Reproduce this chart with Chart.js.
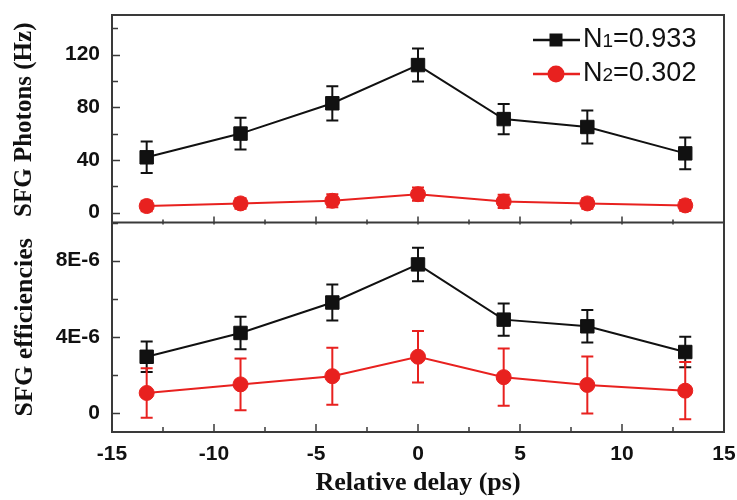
<!DOCTYPE html>
<html lang="en">
<head>
<meta charset="UTF-8">
<title>SFG vs relative delay</title>
<script src="https://cdn.jsdelivr.net/npm/chart.js"></script>
<style>
    body {
        margin: 0;
        background: #fff;
    }
    .wrap {
        position: relative;
        width: 737px;
        height: 500px;
    }
    #topChart { position: absolute; left: 0; top: 0; }
    #bottomChart { position: absolute; left: 0; top: 212px; }
</style>
</head>
<body>
<div class="wrap">
    <canvas id="topChart" width="737" height="235"></canvas>
    <canvas id="bottomChart" width="737" height="288"></canvas>
</div>
<script>
    // relative delay (ps)
    const delay = [-13.3, -8.7, -4.2, 0, 4.2, 8.3, 13.1];

    // SFG photon counts (Hz)
    const photonsN1 = [42, 60, 83, 112, 71, 65, 45];
    const photonsN1Err = [12, 12, 13, 12.5, 11.5, 12.5, 12];
    const photonsN2 = [5, 7, 9, 14, 8.5, 7, 5.5];
    const photonsN2Err = [4, 4, 5, 5, 5, 4, 4];

    // SFG efficiencies
    const effN1 = [2.95e-6, 4.2e-6, 5.8e-6, 7.8e-6, 4.9e-6, 4.55e-6, 3.2e-6];
    const effN1Err = [0.8e-6, 0.85e-6, 0.95e-6, 0.88e-6, 0.85e-6, 0.85e-6, 0.8e-6];
    const effN2 = [1.05e-6, 1.5e-6, 1.93e-6, 2.95e-6, 1.88e-6, 1.47e-6, 1.17e-6];
    const effN2Err = [1.3e-6, 1.36e-6, 1.5e-6, 1.35e-6, 1.5e-6, 1.5e-6, 1.5e-6];

    // axis ticks
    const delayTicks = [-15, -10, -5, 0, 5, 10, 15];
    const photonTicks = [0, 40, 80, 120];
    const effTicks = [0, 4e-6, 8e-6];
    const effTickLabels = ['0', '4E-6', '8E-6'];

    // legend: [main, subscript, rest]
    const legendLabels = [['N', '1', '=0.933'], ['N', '2', '=0.302']];

    const BLACK = '#111111';
    const RED = '#e8211f';
    const FRAME = '#3a3a3a';
    const SERIF = '"Liberation Serif", "Times New Roman", serif';
    const tickFont = { family: '"Liberation Sans", Arial, sans-serif', size: 21, weight: 'bold' };
    const noPadding = () => ({ left: 0, top: 0, right: 0, bottom: 0 });

    function points(ys) {
        return delay.map((x, i) => ({ x: x, y: ys[i] }));
    }

    // vertical error bars with caps, drawn under the markers
    const errorBars = {
        id: 'errorBars',
        beforeDatasetsDraw(chart) {
            const ctx = chart.ctx;
            const xs = chart.scales.x, ys = chart.scales.y;
            ctx.save();
            chart.data.datasets.forEach(ds => {
                ctx.strokeStyle = ds.borderColor;
                ctx.lineWidth = 2;
                ds.data.forEach((p, i) => {
                    const px = xs.getPixelForValue(p.x);
                    const hi = ys.getPixelForValue(p.y + ds.errors[i]);
                    const lo = ys.getPixelForValue(p.y - ds.errors[i]);
                    ctx.beginPath();
                    ctx.moveTo(px, hi); ctx.lineTo(px, lo);
                    ctx.moveTo(px - 6, hi); ctx.lineTo(px + 6, hi);
                    ctx.moveTo(px - 6, lo); ctx.lineTo(px + 6, lo);
                    ctx.stroke();
                });
            });
            ctx.restore();
        }
    };

    // box frame and inward tick marks; the upper panel leaves its bottom edge
    // to the lower panel so the shared line is drawn once
    const frame = {
        id: 'frame',
        afterDatasetsDraw(chart, args, opts) {
            const ctx = chart.ctx;
            const a = chart.chartArea;
            const xs = chart.scales.x, ys = chart.scales.y;
            ctx.save();
            ctx.strokeStyle = FRAME;
            ctx.lineWidth = 2;
            ctx.beginPath();
            ctx.moveTo(a.left, a.bottom + 1);
            ctx.lineTo(a.left, a.top);
            ctx.lineTo(a.right, a.top);
            ctx.lineTo(a.right, a.bottom + 1);
            if (!opts.openBottom) {
                ctx.moveTo(a.left, a.bottom);
                ctx.lineTo(a.right, a.bottom);
            }
            ctx.stroke();
            ctx.lineWidth = 1.5;
            ctx.beginPath();
            for (let v = -15; v <= 15; v += 2.5) {
                const px = Math.round(xs.getPixelForValue(v));
                const len = (v % 5 === 0) ? 8 : 5;
                ctx.moveTo(px, a.bottom); ctx.lineTo(px, a.bottom - len);
            }
            const yt = ys.ticks.map(t => t.value);
            const step = yt[1] - yt[0];
            for (let k = 0; k < yt.length * 2 + 2; k++) {
                const v = yt[0] + k * step / 2;
                if (v > ys.max) break;
                const py = Math.round(ys.getPixelForValue(v)) + 0.5;
                const len = (k % 2 === 0) ? 8 : 6;
                ctx.moveTo(a.left, py); ctx.lineTo(a.left + len, py);
            }
            ctx.stroke();
            ctx.restore();
        }
    };

    // legend with line-through-marker samples
    const legendBox = {
        id: 'legendBox',
        afterDraw(chart) {
            const ctx = chart.ctx;
            const rows = [40, 74];
            ctx.save();
            chart.data.datasets.forEach((ds, i) => {
                const y = rows[i];
                ctx.strokeStyle = ds.borderColor;
                ctx.fillStyle = ds.borderColor;
                ctx.lineWidth = 2.5;
                ctx.beginPath();
                ctx.moveTo(533, y); ctx.lineTo(580, y);
                ctx.stroke();
                if (ds.pointStyle === 'rect') {
                    ctx.fillRect(549.5, y - 6.5, 13, 13);
                } else {
                    ctx.beginPath();
                    ctx.arc(556, y, 8.5, 0, Math.PI * 2);
                    ctx.fill();
                }
                const lab = legendLabels[i];
                const base = y + 7;
                ctx.fillStyle = BLACK;
                ctx.textBaseline = 'alphabetic';
                let x = 583;
                ctx.font = '27px "Liberation Sans", Arial, sans-serif';
                ctx.fillText(lab[0], x, base);
                x += ctx.measureText(lab[0]).width;
                ctx.font = '19px "Liberation Sans", Arial, sans-serif';
                ctx.fillText(lab[1], x, base);
                x += ctx.measureText(lab[1]).width;
                ctx.font = '27px "Liberation Sans", Arial, sans-serif';
                ctx.fillText(lab[2], x, base);
            });
            ctx.restore();
        }
    };

    function makeDatasets(a, aErr, b, bErr) {
        return [{
            label: 'N1',
            data: points(a),
            errors: aErr,
            borderColor: BLACK,
            backgroundColor: BLACK,
            borderWidth: 2,
            pointStyle: 'rect',
            pointRadius: 9.5,
            pointBorderWidth: 1,
            order: 2
        }, {
            label: 'N2',
            data: points(b),
            errors: bErr,
            borderColor: RED,
            backgroundColor: RED,
            borderWidth: 2,
            pointStyle: 'circle',
            pointRadius: 7.5,
            pointBorderWidth: 1,
            order: 1
        }];
    }

    function yScale(min, max, ticks, labels, title, titleSize) {
        return {
            type: 'linear',
            min: min,
            max: max,
            afterFit(s) {
                s.width = 112;
                s.getPadding = noPadding;
            },
            afterBuildTicks(s) { s.ticks = ticks.map(v => ({ value: v })); },
            grid: { display: false, drawTicks: false },
            border: { display: false },
            ticks: {
                padding: 12,
                color: BLACK,
                font: tickFont,
                callback: (v) => labels ? labels[ticks.indexOf(v)] : String(v)
            },
            title: {
                display: true,
                text: title,
                color: BLACK,
                font: { family: SERIF, size: titleSize, weight: 'bold', lineHeight: 1.2 },
                padding: { top: 25 - titleSize * 0.6, bottom: 0 }
            }
        };
    }

    const common = {
        responsive: false,
        maintainAspectRatio: false,
        animation: false
    };

    new Chart(document.getElementById('topChart'), {
        type: 'line',
        data: { datasets: makeDatasets(photonsN1, photonsN1Err, photonsN2, photonsN2Err) },
        options: Object.assign({}, common, {
            plugins: { legend: { display: false }, tooltip: { enabled: false }, frame: { openBottom: true } },
            layout: { padding: { top: 15, right: 13, bottom: 1, left: 0 } },
            scales: {
                x: {
                    type: 'linear', min: -15, max: 15, display: false,
                    afterFit(s) { s.height = 0; s.getPadding = noPadding; }
                },
                y: yScale(-9, 150, photonTicks, null, 'SFG Photons (Hz)', 25)
            }
        }),
        plugins: [errorBars, frame, legendBox]
    });

    new Chart(document.getElementById('bottomChart'), {
        type: 'line',
        data: { datasets: makeDatasets(effN1, effN1Err, effN2, effN2Err) },
        options: Object.assign({}, common, {
            plugins: { legend: { display: false }, tooltip: { enabled: false }, frame: { openBottom: false } },
            layout: { padding: { top: 0, right: 13, bottom: 0, left: 0 } },
            scales: {
                x: {
                    type: 'linear',
                    min: -15,
                    max: 15,
                    afterFit(s) { s.height = 68; s.getPadding = noPadding; },
                    afterBuildTicks(s) { s.ticks = delayTicks.map(v => ({ value: v })); },
                    grid: { display: false, drawTicks: false },
                    border: { display: false },
                    ticks: { padding: 10, color: BLACK, font: tickFont, maxRotation: 0 },
                    title: {
                        display: true,
                        text: 'Relative delay (ps)',
                        color: BLACK,
                        font: { family: SERIF, size: 26, weight: 'bold' },
                        padding: { top: 0, bottom: 1 }
                    }
                },
                y: yScale(-1e-6, 1e-5, effTicks, effTickLabels, 'SFG efficiencies', 26)
            }
        }),
        plugins: [errorBars, frame]
    });
</script>
</body>
</html>
